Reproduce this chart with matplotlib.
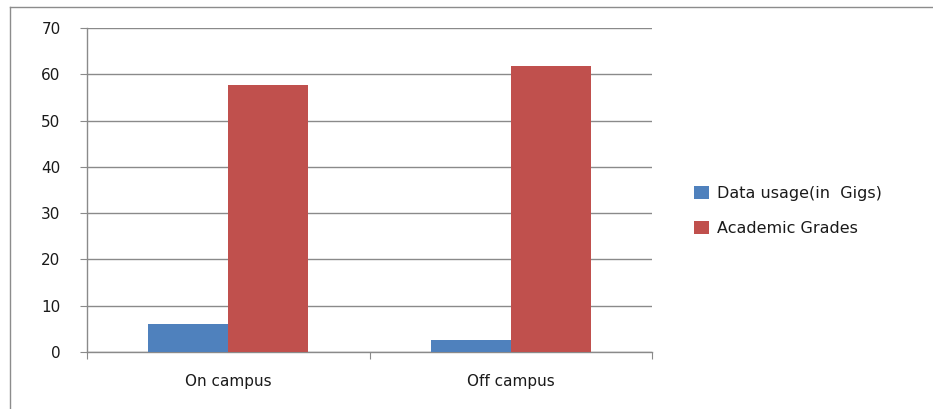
import matplotlib
matplotlib.use("Agg")
import matplotlib.pyplot as plt
import numpy as np
from matplotlib.lines import Line2D
from matplotlib.patches import Patch

categories = ["On campus", "Off campus"]
series_names = ["Data usage(in  Gigs)", "Academic Grades"]
data_usage = [6, 2.6]
academic_grades = [57.7, 61.8]
y_ticks = [0, 10, 20, 30, 40, 50, 60, 70]

blue = "#4F81BD"
red = "#C0504D"
grid_gray = "#8a8a8a"
text_color = "#1a1a1a"

W, H = 933, 409
fig = plt.figure(figsize=(W / 100, H / 100), dpi=100)
fig.patch.set_facecolor("white")

# outer chart-area border (left and top edges visible)
fig.add_artist(Line2D([10 / W, 10 / W], [0, 1 - 7 / H], transform=fig.transFigure,
                      color="#8c8c8c", lw=1.0))
fig.add_artist(Line2D([10 / W, 1], [1 - 7 / H, 1 - 7 / H], transform=fig.transFigure,
                      color="#8c8c8c", lw=1.0))

left, right, top, bottom = 87, 652, 28, 352
ax = fig.add_axes([left / W, 1 - bottom / H, (right - left) / W, (bottom - top) / H])

x = np.arange(len(categories))
bw = 0.283
ax.bar(x - bw / 2, data_usage, width=bw, color=blue, label=series_names[0], zorder=3)
ax.bar(x + bw / 2, academic_grades, width=bw, color=red, label=series_names[1], zorder=3)

ax.set_xlim(-0.5, len(categories) - 0.5)
ax.set_ylim(0, 70)
ax.set_yticks(y_ticks)
ax.set_yticklabels([str(v) for v in y_ticks], fontsize=11, color=text_color)
ax.yaxis.grid(True, color=grid_gray, lw=1.0, zorder=0)
ax.set_axisbelow(True)

# category boundaries carry the ticks, labels sit at category centres
ax.set_xticks([-0.5, 0.5, 1.5])
ax.set_xticklabels([])
ax.set_xticks(x, minor=True)
ax.set_xticklabels(categories, minor=True, fontsize=11, color=text_color)
ax.tick_params(axis="x", which="major", length=5, color=grid_gray, direction="out")
ax.tick_params(axis="x", which="minor", length=0, pad=16)
ax.tick_params(axis="y", length=5, color=grid_gray, direction="out", pad=14)

for side in ["top", "right"]:
    ax.spines[side].set_visible(False)
for side in ["left", "bottom"]:
    ax.spines[side].set_color(grid_gray)
    ax.spines[side].set_linewidth(1.0)

handles = [Patch(facecolor=blue, edgecolor="none"), Patch(facecolor=red, edgecolor="none")]
fig.legend(handles, series_names, loc="center left",
           bbox_to_anchor=(680 / W, 1 - 211 / H), frameon=False,
           fontsize=11.5, handlelength=0.9, handleheight=0.9, handletextpad=0.5,
           labelspacing=1.25, labelcolor=text_color)

fig.savefig("out.png", dpi=100, facecolor="white")
